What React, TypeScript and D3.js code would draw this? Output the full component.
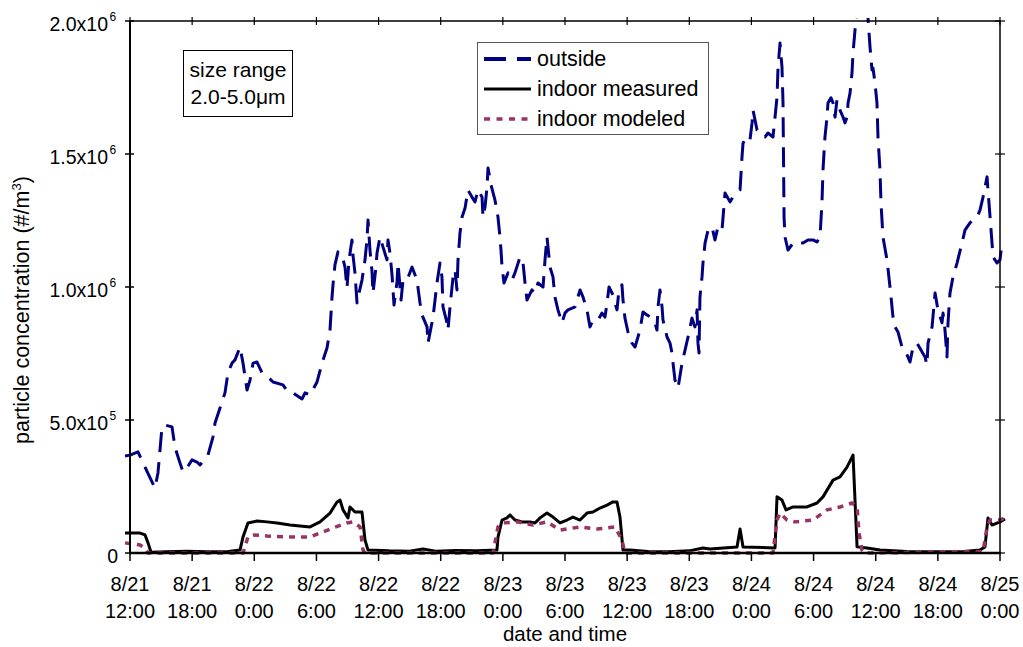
import React from "react";
import * as d3 from "d3";

// hours since 8/21 12:00, value in units of 1e5 #/m^3
const outside: [number, number][] = [
  [-0.48,3.65],[0,3.68],[0.77,3.80],[1.45,3.23],[2.41,2.44],[2.70,3.01],[3.09,4.74],[3.38,4.81],[4.06,4.74],[4.34,3.98],[4.83,3.38],[5.12,3.05],[5.50,3.20],[5.99,3.50],[6.47,3.42],[6.76,3.31],[7.53,3.68],[8.01,4.36],[8.21,4.89],[8.69,5.45],[9.17,6.02],[9.46,6.77],[9.85,7.14],[10.14,7.26],[10.62,7.74],[10.91,7.14],[11.30,6.13],[11.59,6.50],[11.88,7.14],[12.26,7.18],[12.75,6.77],[13.32,6.62],[13.81,6.43],[14.77,6.32],[15.26,6.05],[15.74,6.02],[16.61,5.79],[16.90,6.02],[17.38,5.94],[18.06,6.43],[18.54,7.14],[19.02,7.71],[19.31,8.38],[19.50,9.59],[19.60,10.08],[19.79,10.83],[20.08,11.32],[20.47,11.20],[20.76,10.75],[20.95,9.96],[21.15,11.02],[21.43,11.77],[21.53,11.20],[21.72,10.53],[21.92,9.40],[22.11,9.77],[22.40,10.26],[22.69,11.02],[22.88,11.77],[22.98,12.52],[23.17,11.39],[23.37,10.56],[23.46,9.77],[23.75,10.75],[23.85,11.28],[24.14,11.88],[24.43,11.50],[24.81,11.02],[24.91,11.77],[25.10,11.28],[25.30,10.45],[25.49,9.32],[25.78,10.19],[25.88,10.90],[26.17,9.51],[26.36,10.26],[26.75,10.26],[27.23,10.75],[27.71,10.26],[28.00,9.40],[28.19,8.95],[28.68,8.50],[28.77,7.89],[29.26,8.87],[29.64,10.15],[29.93,10.90],[30.12,10.38],[30.22,9.25],[30.61,8.65],[30.70,8.38],[30.90,9.25],[31.19,10.38],[31.38,10.64],[31.57,9.89],[31.67,11.02],[31.86,12.03],[32.06,12.63],[32.35,12.97],[32.63,13.65],[33.02,13.38],[33.31,13.20],[33.60,13.65],[33.99,13.38],[34.08,12.63],[34.28,13.01],[34.47,13.76],[34.57,14.47],[34.86,13.83],[35.24,13.27],[35.53,12.63],[35.72,11.88],[35.82,11.39],[35.92,10.75],[36.11,10.15],[36.50,10.53],[36.88,10.26],[37.17,10.53],[37.66,11.13],[37.95,10.90],[38.14,10.15],[38.33,9.51],[38.81,9.89],[39.10,9.77],[39.39,10.15],[39.88,10.00],[40.07,11.02],[40.26,11.88],[40.36,11.50],[40.55,10.75],[40.84,10.38],[41.03,9.62],[41.32,9.14],[41.71,8.65],[42.00,9.02],[42.29,9.14],[42.97,9.25],[43.45,9.89],[43.74,9.62],[44.12,9.14],[44.41,8.50],[44.70,8.76],[45.19,8.76],[45.57,9.02],[45.86,8.87],[46.06,9.40],[46.25,10.00],[46.63,9.70],[47.02,9.14],[47.21,9.89],[47.50,10.08],[47.60,9.51],[47.79,8.83],[48.08,8.31],[48.47,7.89],[48.76,7.74],[49.24,8.38],[49.53,9.06],[49.92,8.95],[50.40,8.83],[50.69,8.65],[50.88,8.38],[50.98,9.25],[51.17,9.89],[51.37,9.25],[51.46,8.76],[51.85,8.12],[52.14,7.89],[52.33,7.52],[52.43,7.14],[52.62,6.50],[52.91,6.20],[53.30,7.14],[53.59,7.63],[53.88,8.12],[54.26,8.83],[54.55,8.50],[54.75,9.14],[54.84,7.89],[54.94,7.52],[55.03,9.62],[55.23,10.38],[55.32,10.90],[55.52,11.65],[55.81,12.14],[56.19,12.26],[56.48,11.77],[56.77,12.26],[57.16,12.14],[57.45,13.53],[57.93,13.20],[58.22,13.38],[58.90,13.65],[59.09,14.89],[59.19,15.41],[59.57,15.64],[59.86,15.53],[60.06,16.17],[60.15,16.65],[60.35,16.28],[60.54,15.90],[61.31,15.64],[61.60,15.79],[62.08,15.64],[62.28,16.39],[62.47,17.14],[62.57,18.27],[62.76,19.17],[62.95,18.27],[63.05,16.92],[63.15,12.63],[63.24,11.88],[63.53,11.39],[64.02,11.65],[64.50,11.69],[64.98,11.65],[65.46,11.77],[65.95,11.77],[66.33,11.69],[66.62,11.88],[66.81,13.16],[66.91,14.40],[67.10,15.64],[67.30,16.39],[67.39,16.92],[67.68,17.11],[67.88,16.92],[68.07,16.39],[68.26,17.03],[68.55,16.65],[68.84,16.39],[69.04,16.17],[69.23,16.39],[69.33,16.92],[69.52,17.29],[69.71,18.05],[69.81,18.80],[70.00,19.66],[70.20,20.40],[70.48,21.00],[70.87,21.50],[71.06,21.00],[71.25,20.15],[71.45,19.02],[71.64,18.16],[71.74,18.23],[71.93,17.67],[72.12,16.92],[72.22,15.64],[72.41,14.40],[72.51,13.16],[72.70,11.88],[73.09,11.02],[73.38,10.00],[73.67,8.87],[73.86,8.50],[74.15,8.31],[74.54,7.74],[74.83,7.63],[75.31,7.18],[75.60,7.74],[75.99,7.89],[76.76,7.37],[76.95,7.07],[77.05,7.89],[77.44,8.50],[77.73,9.77],[78.01,9.14],[78.40,8.65],[78.50,9.02],[78.69,8.38],[78.88,7.37],[78.98,8.65],[79.17,9.77],[79.46,10.38],[79.85,10.90],[80.33,11.65],[80.62,12.14],[81.10,12.41],[81.39,12.52],[81.78,12.63],[82.07,12.89],[82.36,13.38],[82.75,14.14],[82.84,13.65],[83.04,12.63],[83.23,11.65],[83.33,11.13],[83.71,10.90],[84.00,11.02],[84.19,11.65]
];

const indoorMeasured: [number, number][] = [
  [-0.48,0.75],[0.97,0.75],[1.45,0.68],[1.74,0.38],[2.03,0.03],[3.5,0.05],[5.5,0.07],[7.5,0.05],[9.5,0.06],[10.62,0.11],[10.91,0.60],[11.39,1.13],[12.26,1.20],[13.23,1.17],[14.19,1.13],[15.45,1.05],[17.38,0.98],[18.35,1.17],[19.31,1.50],[19.99,1.92],[20.28,1.99],[20.57,1.62],[21.05,1.32],[21.24,1.73],[21.72,1.54],[22.01,1.54],[22.40,1.54],[22.69,0.49],[22.98,0.11],[25.0,0.08],[27.0,0.07],[28.29,0.15],[29.5,0.07],[31.5,0.09],[33.5,0.08],[35.43,0.11],[35.53,0.60],[35.92,1.24],[36.40,1.32],[36.69,1.43],[37.17,1.24],[37.85,1.17],[38.62,1.17],[39.10,1.13],[39.59,1.32],[40.26,1.50],[40.84,1.35],[41.52,1.13],[42.19,1.24],[42.77,1.35],[43.45,1.24],[44.12,1.50],[44.70,1.54],[45.38,1.69],[46.06,1.80],[46.63,1.92],[47.02,1.92],[47.31,1.35],[47.60,0.11],[48.28,0.11],[50.0,0.06],[52.0,0.05],[54.0,0.08],[55.32,0.19],[56.0,0.15],[58.61,0.23],[58.90,0.90],[59.19,0.23],[62.28,0.19],[62.47,2.11],[62.95,1.99],[63.34,1.62],[64.02,1.73],[65.37,1.73],[66.33,1.88],[66.91,2.11],[67.88,2.74],[68.55,2.86],[69.23,3.23],[69.81,3.68],[70.20,0.23],[71.16,0.19],[72.41,0.11],[75.0,0.06],[78.0,0.05],[80.5,0.06],[82.07,0.11],[82.55,0.23],[82.84,1.32],[83.23,1.05],[84.00,1.17],[84.48,1.28]
];

const indoorModeled: [number, number][] = [
  [-0.48,0.38],[0.97,0.30],[1.45,0.19],[1.74,0.0],[6,0],[10.91,0.0],[11.39,0.60],[11.88,0.68],[13.23,0.64],[15.74,0.60],[17.38,0.60],[18.35,0.75],[19.60,0.94],[20.95,1.13],[21.53,1.17],[22.21,0.98],[22.50,0.11],[22.69,0],[35.05,0],[35.53,0.98],[36.01,1.13],[37.37,1.17],[38.91,1.05],[40.26,1.17],[41.52,0.86],[43.45,0.98],[45.09,0.90],[46.83,0.98],[47.50,0.49],[47.79,0],[62.08,0],[62.47,1.24],[62.76,1.50],[63.43,1.24],[64.20,1.17],[65.95,1.24],[67.30,1.62],[68.55,1.73],[69.71,1.88],[70.20,1.73],[70.39,0.75],[70.68,0.11],[70.9,0],[82.36,0.05],[82.75,0.98],[83.04,1.24],[84.00,1.24],[84.48,1.32]
];

const xTickHours = [0, 6, 12, 18, 24, 30, 36, 42, 48, 54, 60, 66, 72, 78, 84];
const xTickDates = ["8/21","8/21","8/22","8/22","8/22","8/22","8/23","8/23","8/23","8/23","8/24","8/24","8/24","8/24","8/25"];
const xTickTimes = ["12:00","18:00","0:00","6:00","12:00","18:00","0:00","6:00","12:00","18:00","0:00","6:00","12:00","18:00","0:00"];
const yTickValues = [0, 5e5, 1e6, 1.5e6, 2e6];
const yTickMantissa = ["0", "5.0x10", "1.0x10", "1.5x10", "2.0x10"];
const yTickExponent = ["", "5", "6", "6", "6"];

const seriesNames = ["outside", "indoor measured", "indoor modeled"];
const seriesColors = ["#000080", "#000000", "#993366"];

const FONT = "'Liberation Sans', Arial, Helvetica, sans-serif";

export default function App() {
  const W = 1023, H = 647;
  const L = 130, R = 1000, T = 21, B = 553;
  const x = d3.scaleLinear().domain([0, 84]).range([L, R]);
  const y = d3.scaleLinear().domain([0, 2e6]).range([B, T]);
  const line = d3.line<[number, number]>().x(d => x(d[0])).y(d => y(d[1] * 1e5));

  const styles = [
    { dash: "20,10", width: 3 },
    { dash: "none", width: 3 },
    { dash: "6,6", width: 3.5 },
  ];

  return (
    <svg width={W} height={H} style={{ position: "absolute", left: 0, top: 0, background: "#fff" }} fontFamily={FONT}>
      <defs>
        <clipPath id="plotclip">
          <rect x={0} y={T - 3} width={W} height={H} />
        </clipPath>
      </defs>
      <rect x={0} y={0} width={W} height={H} fill="#fff" />

      {/* series */}
      <g clipPath="url(#plotclip)" fill="none" strokeLinejoin="round">
        <path d={line(indoorMeasured) || ""} stroke={seriesColors[1]} strokeWidth={styles[1].width} />
        <path d={line(indoorModeled) || ""} stroke={seriesColors[2]} strokeWidth={styles[2].width} strokeDasharray={styles[2].dash} />
        <path d={line(outside) || ""} stroke={seriesColors[0]} strokeWidth={styles[0].width} strokeDasharray={styles[0].dash} />
      </g>

      {/* axes frame */}
      <line x1={L} x2={R} y1={T} y2={T} stroke="#000" strokeWidth={1.5} />
      <line x1={R} x2={R} y1={T} y2={B} stroke="#000" strokeWidth={1.5} />
      <line x1={L} x2={L} y1={T} y2={B} stroke="#000" strokeWidth={2} />
      <line x1={L - 1} x2={R + 1} y1={B} y2={B} stroke="#000" strokeWidth={2.5} />

      {/* x ticks */}
      {xTickHours.map((h, i) => (
        <g key={"xt" + i}>
          <line x1={x(h)} x2={x(h)} y1={B} y2={B + 8} stroke="#000" strokeWidth={1.5} />
          <line x1={x(h)} x2={x(h)} y1={T - 4} y2={T + 4} stroke="#000" strokeWidth={1.2} />
          <text x={x(h)} y={591} textAnchor="middle" fontSize={20}>{xTickDates[i]}</text>
          <text x={x(h)} y={618} textAnchor="middle" fontSize={20}>{xTickTimes[i]}</text>
        </g>
      ))}

      {/* y ticks */}
      {yTickValues.map((v, i) => (
        <g key={"yt" + i}>
          <line x1={L - 5} x2={L + 4} y1={y(v)} y2={y(v)} stroke="#000" strokeWidth={1.5} />
          <line x1={R - 5} x2={R + 5} y1={y(v)} y2={y(v)} stroke="#000" strokeWidth={1.2} />
          <text x={yTickExponent[i] ? 108 : 118} y={y(v) + 10} textAnchor="end" fontSize={19.5}>{yTickMantissa[i]}</text>
          {yTickExponent[i] && (
            <text x={109.5} y={y(v) - 0.5} textAnchor="start" fontSize={12}>{yTickExponent[i]}</text>
          )}
        </g>
      ))}

      {/* axis titles */}
      <text x={565} y={641} textAnchor="middle" fontSize={20.5}>date and time</text>
      <text transform="translate(29,310) rotate(-90)" textAnchor="middle" fontSize={21.5}>
        particle concentration (#/m<tspan dy={-8} fontSize={13}>3</tspan><tspan dy={8}>)</tspan>
      </text>

      {/* size range box */}
      <rect x={183.5} y={50.5} width={109} height={66} fill="#fff" stroke="#000" strokeWidth={1} />
      <text x={238} y={77} textAnchor="middle" fontSize={21}>size range</text>
      <text x={238} y={104} textAnchor="middle" fontSize={21}>2.0-5.0μm</text>

      {/* legend */}
      <rect x={477.5} y={42.5} width={231} height={92} fill="#fff" stroke="#555" strokeWidth={1} />
      {seriesNames.map((n, i) => {
        const cy = 59 + i * 30;
        return (
          <g key={"lg" + i}>
            <line x1={484} x2={531} y1={cy} y2={cy} stroke={seriesColors[i]} strokeWidth={styles[i].width + (i === 0 ? 1 : 0)}
              strokeDasharray={i === 0 ? "22,11" : i === 2 ? "6,6.5" : "none"} />
            <text x={537} y={cy + 7} fontSize={21.5}>{n}</text>
          </g>
        );
      })}
    </svg>
  );
}
